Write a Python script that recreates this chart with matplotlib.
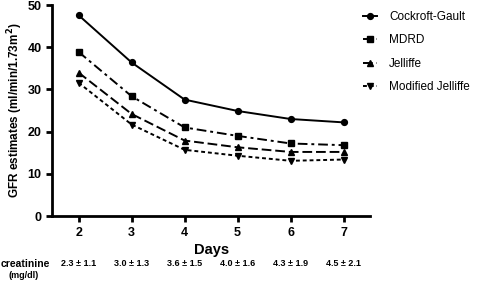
import matplotlib
matplotlib.use("Agg")
import matplotlib.pyplot as plt

plt.rcParams['font.family'] = ['Liberation Sans', 'DejaVu Sans']

days = [2, 3, 4, 5, 6, 7]
cockroft = [47.6, 36.4, 27.6, 24.9, 23.0, 22.2]
mdrd = [38.9, 28.4, 21.0, 19.0, 17.2, 16.8]
jelliffe = [34.0, 24.2, 17.9, 16.3, 15.2, 15.2]
mod_jelliffe = [31.6, 21.7, 15.7, 14.3, 13.1, 13.4]
creatinine = ["2.3 \u00b1 1.1", "3.0 \u00b1 1.3", "3.6 \u00b1 1.5", "4.0 \u00b1 1.6", "4.3 \u00b1 1.9", "4.5 \u00b1 2.1"]

fig = plt.figure(figsize=(4.82, 2.81), dpi=100)
ax = fig.add_axes([0.108, 0.231, 0.66, 0.751])

lw = 1.4
ax.plot(days, cockroft, color='black', lw=lw, ls='-', marker='o', ms=4.2, label='Cockroft-Gault')
ax.plot(days, mdrd, color='black', lw=lw, ls=(0, (5, 2, 1.5, 2)), marker='s', ms=4.2, label='MDRD')
ax.plot(days, jelliffe, color='black', lw=lw, ls=(0, (5, 2)), marker='^', ms=4.2, label='Jelliffe')
ax.plot(days, mod_jelliffe, color='black', lw=lw, ls=(0, (2, 1.5)), marker='v', ms=4.2, label='Modified Jelliffe')

ax.set_xlim(1.5, 7.5)
ax.set_ylim(0, 50)
ax.set_xticks(days)
ax.set_yticks([0, 10, 20, 30, 40, 50])
for s in ['top', 'right']:
    ax.spines[s].set_visible(False)
for s in ['left', 'bottom']:
    ax.spines[s].set_linewidth(2)
ax.tick_params(width=2, length=4, labelsize=9)
for lab in ax.get_xticklabels() + ax.get_yticklabels():
    lab.set_fontweight('bold')
ax.set_xlabel('Days', fontsize=10.5, fontweight='bold', labelpad=3)
ax.set_ylabel('GFR estimates (ml/min/1.73m$^\\mathbf{2}$)', fontsize=8.5, fontweight='bold')
ax.yaxis.set_label_coords(-0.085, 0.5)

leg = fig.legend(loc='upper left', bbox_to_anchor=(0.753, 0.96), frameon=False, fontsize=8.5,
                 handlelength=1.2, labelspacing=0.95, handletextpad=1.0,
                 borderpad=0, borderaxespad=0)

# creatinine row
for d, c in zip(days, creatinine):
    ax.text(d, -0.227, c, transform=ax.get_xaxis_transform(), ha='center', va='center',
            fontsize=6.5, fontweight='bold')
fig.text(0.002, 1 - 264 / 281, 'creatinine', fontsize=7.5, fontweight='bold', va='center', ha='left')
fig.text(0.017, 1 - 275 / 281, '(mg/dl)', fontsize=6.5, fontweight='bold', va='center', ha='left')

fig.savefig('out.png', dpi=100)
